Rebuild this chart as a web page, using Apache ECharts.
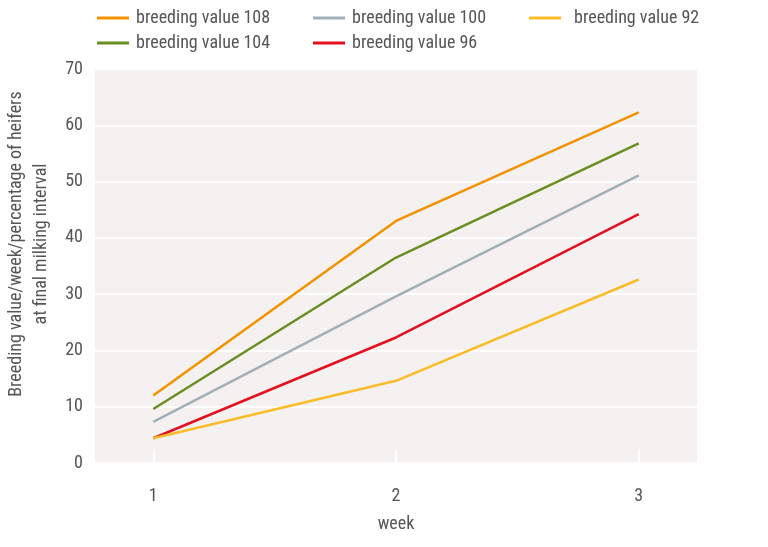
<!DOCTYPE html>
<html><head><meta charset="utf-8">
<script src="https://cdn.jsdelivr.net/npm/echarts@6/dist/echarts.min.js"></script>
<style>html,body{margin:0;padding:0;background:#fff}#c{width:768px;height:547px}</style>
</head><body><div id="c"></div>
<script>
const weeks = [1, 2, 3];
const names = ['breeding value 108','breeding value 104','breeding value 100','breeding value 96','breeding value 92'];
const bv108 = [12.0, 43.0, 62.3];
const bv104 = [9.6, 36.5, 56.8];
const bv100 = [7.3, 29.6, 51.1];
const bv96  = [4.4, 22.3, 44.2];
const bv92  = [4.4, 14.6, 32.6];
const yTicks = [0,10,20,30,40,50,60,70];
const colors = ['#f39200','#6b8e23','#a3afb6','#e3101f','#fbbc2a'];
const seriesVals = [bv108, bv104, bv100, bv96, bv92];
const FONT = "'Liberation Sans Narrow','Roboto Condensed','Liberation Sans',sans-serif";
const chart = echarts.init(document.getElementById('c'));
const legendBase = {orient:'vertical', icon:'rect', itemWidth:32, itemHeight:3, itemGap:7, top:4,
  textStyle:{fontFamily:FONT, fontSize:18, color:'#555', padding:[0,0,0,2]}};
chart.setOption({
  animation:false,
  textStyle:{fontFamily:FONT},
  legend:[
    Object.assign({}, legendBase, {left:92, data:[names[0],names[1]]}),
    Object.assign({}, legendBase, {left:308, data:[names[2],names[3]]}),
    Object.assign({}, legendBase, {left:524, data:[names[4]], textStyle:Object.assign({}, legendBase.textStyle, {padding:[0,0,0,8]})})
  ],
  grid:{left:95, right:71, top:69, bottom:84, show:true, backgroundColor:'#f4f1f0', borderWidth:0,
    containLabel:false, outerBoundsMode:'none'},
  xAxis:{type:'value', min:0.76, max:3.24, name:'week', nameLocation:'middle', nameGap:52,
    nameTextStyle:{fontFamily:FONT, fontSize:18, color:'#555'},
    axisLine:{show:false},
    axisTick:{show:true, inside:true, length:14, customValues:weeks, lineStyle:{color:'#fff', width:2}},
    axisLabel:{customValues:weeks, margin:24, fontFamily:FONT, fontSize:18, color:'#555'},
    splitLine:{show:false}},
  yAxis:{type:'value', min:0, max:70, interval:10,
    name:'Breeding value/week/percentage of heifers\nat final milking interval',
    nameLocation:'middle', nameGap:41, nameRotate:90,
    nameTextStyle:{fontFamily:FONT, fontSize:18, color:'#555', lineHeight:25, padding:[0,0,0,44]},
    axisLine:{show:false}, axisTick:{show:false},
    axisLabel:{margin:12, fontFamily:FONT, fontSize:18, color:'#555'},
    splitLine:{lineStyle:{color:'#fff', width:2}}},
  series: names.map((n,i)=>({name:n, type:'line', symbol:'none', color:colors[i],
    lineStyle:{width:2.5, color:colors[i]},
    data: weeks.map((w,j)=>[w, seriesVals[i][j]])}))
});
</script></body></html>
